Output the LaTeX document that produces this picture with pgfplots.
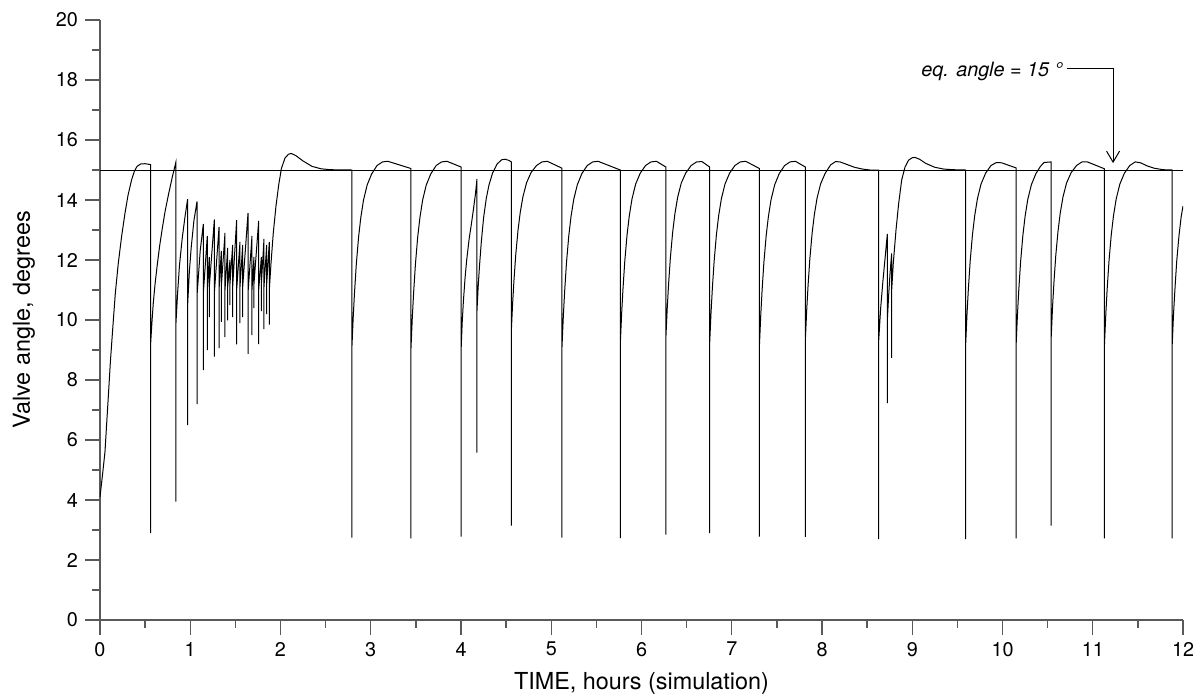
\documentclass[border=0pt]{standalone}
\usepackage{fontspec}
\setmainfont{TeX Gyre Heros}
\usepackage{pgfplots}
\pgfplotsset{compat=1.18}
\usetikzlibrary{arrows.meta,calc}
\definecolor{axisgray}{gray}{0.35}

\begin{document}
\begin{tikzpicture}
\begin{axis}[name=ax,
  scale only axis, width=541.5pt, height=300pt,
  xmin=0, xmax=12, ymin=0, ymax=20,
  axis lines=left,
  axis line style={-, draw=axisgray, line width=0.65pt},
  xtick={0,1,...,12}, ytick={0,2,...,20},
  minor x tick num=1, minor y tick num=1,
  tick align=outside, major tick length=7.5pt, minor tick length=3.8pt,
  tick style={draw=axisgray, line width=0.65pt},
  /pgf/number format/assume math mode=true,
  xticklabel style={font=\fontsize{9.9}{11.5}\selectfont},
  yticklabel style={font=\fontsize{9.9}{11.5}\selectfont},
  xlabel={TIME, hours (simulation)},
  ylabel={Valve angle, degrees},
  label style={font=\fontsize{11.7}{14}\selectfont},
  xlabel style={at={(axis description cs:0.5,0)}, anchor=center, yshift=-31.5pt},
  ylabel style={at={(axis description cs:0,0.5)}, anchor=center, yshift=38pt},
]
% equilibrium angle
\addplot[black, line width=0.5pt] coordinates {(0,15) (12,15)};
% valve angle
\addplot[black, line width=0.5pt, sharp plot] coordinates {
(0,4.1) (0.03,4.9) (0.055,5.6) (0.075,6.6) (0.092,7.44) (0.115,8.6) (0.14,9.67) (0.17,10.9) (0.203,11.9) (0.24,12.8) (0.277,13.56) (0.31,14.15) (0.35,14.67) (0.38,14.95) (0.41,15.12) (0.45,15.2) (0.50,15.21) (0.561,15.18)
(0.561,2.9) (0.561,9.2)
(0.575,9.9) (0.59,10.55) (0.61,11.2) (0.635,11.85) (0.66,12.45) (0.69,13.05) (0.72,13.6) (0.76,14.2) (0.80,14.75) (0.84,15.25)
(0.84,3.95) (0.84,9.8)
(0.86,10.9) (0.88,11.8) (0.91,12.7) (0.94,13.4) (0.971,14.03) (0.971,6.5) (0.971,10.5)
(0.99,11.6) (1.01,12.4) (1.04,13.3) (1.075,13.95) (1.075,7.2) (1.075,10.8)
(1.11,12.3) (1.145,13.2) (1.145,8.33) (1.145,10.9)
(1.189,12.8) (1.189,9.0) (1.189,11.0)
(1.211,12.1) (1.211,10.1) (1.211,11.1)
(1.267,13.35) (1.267,8.78) (1.267,10.9)
(1.319,13.1) (1.319,9.06) (1.319,11.0)
(1.344,12.3) (1.344,9.94) (1.344,11.1)
(1.385,12.9) (1.385,9.43) (1.385,11.0)
(1.415,12.4) (1.415,9.99) (1.415,11.1)
(1.440,12.0) (1.440,10.5) (1.440,11.2)
(1.470,12.5) (1.470,10.1) (1.470,11.1)
(1.514,13.33) (1.514,9.19) (1.514,11.0)
(1.551,12.6) (1.551,9.9) (1.551,11.1)
(1.581,12.5) (1.581,10.1) (1.581,11.1)
(1.640,13.56) (1.640,8.87) (1.640,10.9)
(1.684,12.8) (1.684,9.5) (1.684,11.0)
(1.706,12.1) (1.706,10.4) (1.706,11.2)
(1.758,13.3) (1.758,9.2) (1.758,11.0)
(1.788,12.1) (1.788,10.3) (1.788,11.2)
(1.817,12.7) (1.817,9.7) (1.817,11.1)
(1.847,12.5) (1.847,10.2) (1.847,11.2)
(1.876,12.6) (1.876,9.85) (1.876,11.0)
(1.895,11.9) (1.92,12.9) (1.95,13.8) (1.98,14.5) (2.01,15.05) (2.05,15.4) (2.09,15.53) (2.12,15.55) (2.17,15.48) (2.25,15.3) (2.35,15.12) (2.45,15.04) (2.55,15.01) (2.79,15.0)
(2.79,2.75) (2.79,9.0)
(2.805,10.05) (2.82,10.91) (2.84,11.86) (2.865,12.76) (2.89,13.42) (2.92,14.0) (2.96,14.5) (3.01,14.87) (3.07,15.15) (3.13,15.27) (3.19,15.29) (3.445,15.05)
(3.445,2.72) (3.445,9.0)
(3.46,10.05) (3.475,10.91) (3.495,11.86) (3.52,12.76) (3.545,13.42) (3.575,14.0) (3.615,14.5) (3.665,14.87) (3.725,15.15) (3.785,15.27) (3.845,15.29) (4.0,15.1)
(4.0,2.78) (4.0,8.9)
(4.013,9.9) (4.026,10.6) (4.045,11.4) (4.063,12.0) (4.09,12.7) (4.115,13.2) (4.137,13.67) (4.16,14.2) (4.177,14.7)
(4.177,5.58) (4.177,10.3)
(4.19,11.1) (4.205,11.8) (4.225,12.6) (4.25,13.4) (4.28,14.05) (4.31,14.5) (4.35,14.9) (4.40,15.2) (4.45,15.34) (4.49,15.36) (4.53,15.32) (4.557,15.27)
(4.557,3.15) (4.557,9.6)
(4.572,10.55) (4.587,11.33) (4.607,12.19) (4.632,13.0) (4.657,13.6) (4.687,14.12) (4.727,14.58) (4.777,14.92) (4.837,15.15) (4.897,15.27) (4.957,15.29) (5.119,15.06)
(5.119,2.75) (5.119,9.1)
(5.134,10.14) (5.149,10.98) (5.169,11.92) (5.194,12.8) (5.219,13.45) (5.249,14.02) (5.289,14.51) (5.339,14.88) (5.399,15.15) (5.459,15.27) (5.519,15.29) (5.765,15.0)
(5.765,2.73) (5.765,9.2)
(5.78,10.22) (5.795,11.05) (5.815,11.97) (5.84,12.84) (5.865,13.48) (5.895,14.04) (5.935,14.53) (5.985,14.89) (6.045,15.15) (6.105,15.27) (6.165,15.29) (6.27,15.1)
(6.27,2.85) (6.27,9.4)
(6.285,10.39) (6.30,11.19) (6.32,12.08) (6.345,12.92) (6.37,13.54) (6.40,14.08) (6.44,14.56) (6.49,14.9) (6.55,15.15) (6.61,15.27) (6.67,15.28) (6.755,15.1)
(6.755,2.9) (6.755,9.2)
(6.77,10.22) (6.785,11.05) (6.805,11.97) (6.83,12.84) (6.855,13.48) (6.885,14.04) (6.925,14.53) (6.975,14.89) (7.035,15.15) (7.095,15.27) (7.155,15.29) (7.306,15.05)
(7.306,2.78) (7.306,9.1)
(7.321,10.14) (7.336,10.98) (7.356,11.92) (7.381,12.8) (7.406,13.45) (7.436,14.02) (7.476,14.51) (7.526,14.88) (7.586,15.15) (7.646,15.27) (7.706,15.29) (7.815,15.1)
(7.815,2.77) (7.815,9.3)
(7.83,10.3) (7.845,11.12) (7.865,12.03) (7.89,12.88) (7.915,13.51) (7.945,14.06) (7.985,14.54) (8.035,14.89) (8.095,15.17) (8.15,15.28) (8.2,15.27) (8.28,15.18) (8.36,15.09) (8.45,15.03) (8.53,15.0) (8.627,15.0)
(8.627,2.7) (8.627,9.25)
(8.65,10.4) (8.675,11.3) (8.70,12.1) (8.724,12.87) (8.724,7.23) (8.724,10.0)
(8.74,10.9) (8.755,11.6) (8.772,12.22) (8.772,8.74) (8.772,11.0)
(8.79,11.9) (8.82,13.0) (8.85,13.9) (8.883,14.67) (8.92,15.1) (8.96,15.33) (9.0,15.41) (9.03,15.42) (9.08,15.36) (9.15,15.22) (9.25,15.09) (9.35,15.03) (9.45,15.01) (9.592,15.0)
(9.592,2.7) (9.592,9.2)
(9.607,10.22) (9.622,11.05) (9.642,11.97) (9.667,12.84) (9.692,13.48) (9.722,14.04) (9.762,14.53) (9.812,14.89) (9.872,15.15) (9.932,15.25) (9.99,15.24) (10.15,15.07)
(10.15,2.72) (10.15,9.1)
(10.165,10.14) (10.18,10.98) (10.2,11.92) (10.225,12.8) (10.25,13.45) (10.28,14.02) (10.32,14.51) (10.37,14.88) (10.42,15.12) (10.46,15.25) (10.54,15.27)
(10.54,3.15) (10.54,9.45)
(10.555,10.47) (10.57,11.26) (10.59,12.14) (10.615,12.96) (10.64,13.57) (10.67,14.1) (10.71,14.57) (10.76,14.91) (10.82,15.15) (10.88,15.27) (10.94,15.27) (11.13,15.04)
(11.13,2.72) (11.13,9.2)
(11.145,10.22) (11.16,11.05) (11.18,11.97) (11.205,12.84) (11.23,13.48) (11.26,14.04) (11.30,14.53) (11.35,14.89) (11.41,15.15) (11.47,15.27) (11.53,15.24) (11.6,15.14) (11.68,15.06) (11.78,15.01) (11.88,15.0)
(11.88,2.72) (11.88,9.15)
(11.895,10.2) (11.91,11.0) (11.93,11.95) (11.955,12.8) (11.98,13.45) (12.0,13.8)
};
% annotation
\node[anchor=base east, inner sep=0pt, font=\fontsize{9.9}{12}\selectfont\itshape]
  at (axis cs:10.67,18.12) {eq. angle = 15 °};
\draw[black, line width=0.5pt, -{Straight Barb[length=5.5pt,width=6.5pt]}]
  (axis cs:10.71,18.37) -- (axis cs:11.225,18.37) -- (axis cs:11.225,15.23);
\end{axis}
\pgfresetboundingbox
\path[use as bounding box] ($(ax.south west)+(-50pt,-39pt)$) rectangle ($(ax.north east)+(10.5pt,10pt)$);
\end{tikzpicture}
\end{document}
